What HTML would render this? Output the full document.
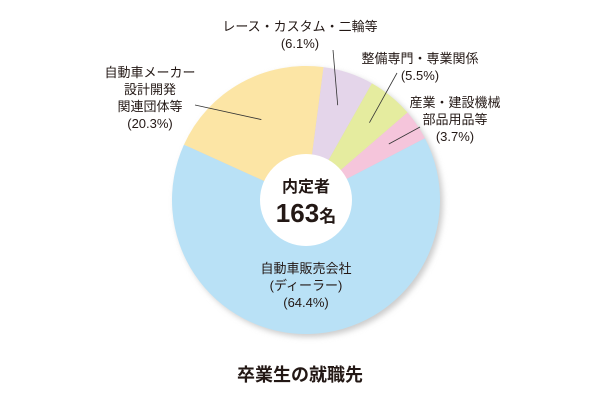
<!DOCTYPE html>
<html><head><meta charset="utf-8"><style>
body{margin:0;background:#fff;}
svg{display:block;font-family:"Liberation Sans","Noto Sans CJK JP",sans-serif;}
</style></head><body>
<svg id="chart" width="600" height="400" viewBox="0 0 600 400">
<defs><filter id="sh" x="-20%" y="-20%" width="140%" height="140%"><feGaussianBlur stdDeviation="3"/></filter></defs>
<circle cx="309" cy="203" r="134" fill="#ccc" filter="url(#sh)"/>
<g id="slices"></g>
<circle cx="306" cy="200" r="46" fill="#fff"/>
<text x="306" y="192" text-anchor="middle" font-size="16" font-weight="bold" fill="#231815">内定者</text>
<text x="306" y="222" text-anchor="middle" font-size="26" font-weight="bold" fill="#231815">163<tspan font-size="17">名</tspan></text>
<g id="labels" font-size="13" fill="#231815" text-anchor="middle"></g>
<text x="300" y="381" text-anchor="middle" font-size="18" font-weight="bold" fill="#231815">卒業生の就職先</text>
</svg>
<script>
const categories=["レース・カスタム・二輪等","整備専門・専業関係","産業・建設機械 部品用品等","自動車販売会社 (ディーラー)","自動車メーカー 設計開発 関連団体等"];
const values=[6.1,5.5,3.7,64.4,20.3];
const colors=["#e4d5ea","#e5ec9f","#f5c5db","#b9e1f6","#fce5a5"];
const labelLines=[["レース・カスタム・二輪等","(6.1%)"],["整備専門・専業関係","(5.5%)"],["産業・建設機械","部品用品等","(3.7%)"],["自動車販売会社","(ディーラー)","(64.4%)"],["自動車メーカー","設計開発","関連団体等","(20.3%)"]];
const labelPos=[[300,31],[420,63],[455,107],[306,273],[150,77]];
const ns="http://www.w3.org/2000/svg";
const cx=306,cy=200,R=134,start=7.5;
const total=values.reduce((a,b)=>a+b,0);
function pt(deg,r){const a=deg*Math.PI/180;return [cx+r*Math.sin(a),cy-r*Math.cos(a)];}
let acc=start;
const sg=document.getElementById('slices'),lg=document.getElementById('labels');
values.forEach((v,i)=>{
 const a0=acc,a1=acc+v/total*360;acc=a1;
 const p0=pt(a0,R),p1=pt(a1,R);
 const path=document.createElementNS(ns,'path');
 path.setAttribute('d',`M${cx},${cy}L${p0[0]},${p0[1]}A${R},${R} 0 ${a1-a0>180?1:0} 1 ${p1[0]},${p1[1]}Z`);
 path.setAttribute('fill',colors[i]);
 
 
 sg.appendChild(path);
 const t=document.createElementNS(ns,'text');
 
 
 const [lx,ly]=labelPos[i];
 labelLines[i].forEach((s,j)=>{const ts=document.createElementNS(ns,'tspan');ts.setAttribute('x',lx);ts.setAttribute('y',ly+j*17);ts.textContent=s;t.appendChild(ts);});
 lg.appendChild(t);
 if(i!==3){
  const mid=(a0+a1)/2,m=pt(mid,i===4?92:100);
  const ln=document.createElementNS(ns,'line');
  const ends=[[333,50],[397,73],[420,127],null,[195,105]];
  ln.setAttribute('x1',ends[i][0]);ln.setAttribute('y1',ends[i][1]);
  ln.setAttribute('x2',m[0]);ln.setAttribute('y2',m[1]);
  ln.setAttribute('stroke','#333');ln.setAttribute('stroke-width','0.8');
  
  
  lg.appendChild(ln);
 }
});
</script>
</body></html>
